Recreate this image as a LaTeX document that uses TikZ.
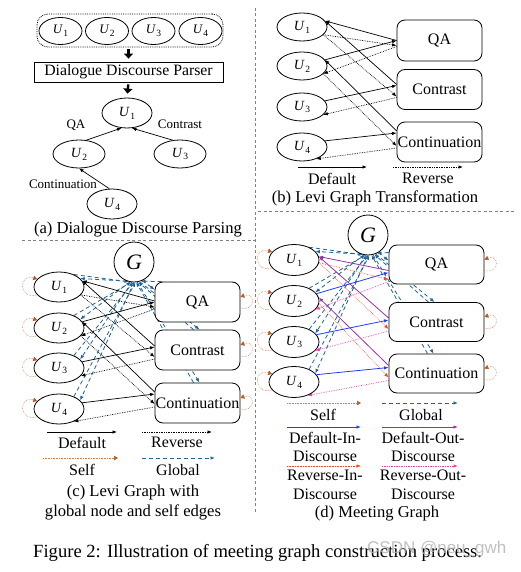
\documentclass[tikz,border=0pt]{standalone}
\usepackage{fontspec}
\setmainfont{Liberation Serif}
\newfontfamily\wmfont{Liberation Sans}
\usetikzlibrary{arrows.meta,shapes.geometric,backgrounds}
\definecolor{globc}{HTML}{1F6496}
\definecolor{selfc}{HTML}{D98050}
\definecolor{selfh}{HTML}{B85C2A}
\definecolor{dinc}{HTML}{1E3CFF}
\definecolor{doutc}{HTML}{9A30A8}
\definecolor{rinc}{HTML}{FF4020}
\definecolor{routc}{HTML}{FF3FA6}
\definecolor{divc}{HTML}{808080}
\definecolor{wmc}{HTML}{B4B4B4}
\newcommand\uu[1]{\textit{U}\kern0.4pt\raisebox{-0.45ex}{\fontsize{9.5}{10}\selectfont #1}}
\tikzset{
 utt/.style={ellipse, draw, line width=0.8pt, fill=white, inner sep=0pt, minimum width=50pt, minimum height=30pt, font=\fontsize{14}{16}\selectfont},
 relbox/.style={rectangle, rounded corners=8pt, draw, line width=0.8pt, fill=white, inner sep=0pt, minimum width=85pt, minimum height=40pt, font=\fontsize{16}{18}\selectfont},
 gnode/.style={circle, draw, line width=0.8pt, fill=white, inner sep=0pt, minimum size=40pt, font=\fontsize{22}{24}\selectfont\itshape},
 txt/.style={inner sep=0pt, font=\fontsize{16}{18.5}\selectfont, align=center},
 capt/.style={inner sep=0pt, font=\fontsize{16.6}{20}\selectfont, align=center},
 rellbl/.style={inner sep=0pt, font=\fontsize{13}{15}\selectfont},
 myhead/.style={-{Latex[length=4.5pt,width=3.5pt]}},
 deflt/.style={line width=0.7pt, black, myhead},
 revs/.style={line width=0.7pt, black, densely dotted, myhead},
 selfe/.style={line width=0.6pt, selfc, densely dotted, -{Triangle[length=4pt,width=4.5pt,color=selfh]}},
 glob/.style={line width=0.8pt, globc, dash pattern=on 4pt off 3pt, myhead},
 din/.style={line width=0.8pt, dinc, myhead},
 dout/.style={line width=0.8pt, doutc, myhead},
 rin/.style={line width=0.6pt, rinc, densely dotted, myhead},
 rout/.style={line width=0.7pt, routc, densely dotted, myhead},
 divl/.style={line width=0.8pt, divc, dash pattern=on 3pt off 2.5pt},
 bigarr/.style={line width=2.4pt, -{Triangle[length=5pt,width=9pt]}, shorten <=2pt, shorten >=3pt},
}
\begin{document}
\begin{tikzpicture}[x=1pt,y=-1pt]
\useasboundingbox (0,0) rectangle (520,572);

% ---------------- dividers
\draw[divl] (255,8) -- (255,512);
\draw[divl] (22,240) -- (255,240);
\draw[divl] (258,211) -- (515,211);

% ================= (a)
\node[draw, densely dotted, line width=0.8pt, rounded corners=11pt, minimum width=186pt, minimum height=33pt, inner sep=0pt] (atop) at (130,30.5) {};
\node[utt, minimum width=43pt, minimum height=27pt, font=\fontsize{13}{15}\selectfont] (aT1) at (60.5,31) {\uu1};
\node[utt, minimum width=43pt, minimum height=27pt, font=\fontsize{13}{15}\selectfont] (aT2) at (107,31) {\uu2};
\node[utt, minimum width=43pt, minimum height=27pt, font=\fontsize{13}{15}\selectfont] (aT3) at (153.5,31) {\uu3};
\node[utt, minimum width=43pt, minimum height=27pt, font=\fontsize{13}{15}\selectfont] (aT4) at (200.5,31) {\uu4};
\node[draw, line width=0.8pt, minimum width=189pt, minimum height=20pt, inner sep=0pt, font=\fontsize{15.8}{18}\selectfont] (parser) at (128.5,72) {Dialogue Discourse Parser};
\draw[bigarr] (parser.north |- atop.south) -- (parser.north);
\node[utt] (aU1) at (127,113) {\uu1};
\node[utt, minimum width=52pt, minimum height=28pt] (aU2) at (79,154) {\uu2};
\node[utt, minimum width=52pt, minimum height=28pt] (aU3) at (180,154) {\uu3};
\node[utt] (aU4) at (112,204) {\uu4};
\draw[bigarr, shorten >=4pt] (parser.south) -- (aU1.north);
\draw[deflt] (aU2.62) -- (aU1.-110);
\draw[deflt] (aU3.118) -- (aU1.-72);
\draw[deflt] (aU4.100) -- (aU2.-90);
\node[rellbl] (lqa) at (76,125) {QA};
\node[rellbl] (lco) at (180,124) {Contrast};
\node[rellbl] (lcn) at (63,184) {Continuation};
\node[capt] (capa) at (138,230) {(a) Dialogue Discourse Parsing};

% ================= (b)
\node[utt, minimum height=28pt] (bU1) at (302,27) {\uu1};
\node[utt, minimum height=28pt] (bU2) at (302,66) {\uu2};
\node[utt, minimum height=28pt] (bU3) at (302,107) {\uu3};
\node[utt, minimum height=28pt] (bU4) at (302,147) {\uu4};
\node[relbox, minimum height=41pt] (bQA) at (439.5,40.5) {QA};
\node[relbox, minimum height=40pt] (bCo) at (439.5,89.5) {Contrast};
\node[relbox, minimum height=40pt] (bCn) at (439.5,142) {Continuation};
\begin{scope}[on background layer]
\draw[deflt] (bU2.15) -- ([yshift=0pt]bQA.west);
\draw[deflt] ([yshift=0pt]bQA.west) -- (bU1.15);
\draw[deflt] (bU3.15) -- ([yshift=4pt]bCo.west);
\draw[deflt] ([yshift=5pt]bCo.west) -- (bU1.15);
\draw[deflt] (bU4.15) -- ([yshift=9pt]bCn.west);
\draw[deflt] ([yshift=11pt]bCn.west) -- (bU2.15);
\draw[revs] (bU1.-20) -- ([yshift=-5pt]bQA.west);
\draw[revs] ([yshift=-6pt]bQA.west) -- (bU2.-20);
\draw[revs] (bU1.-20) -- ([yshift=-7pt]bCo.west);
\draw[revs] ([yshift=-8pt]bCo.west) -- (bU3.-20);
\draw[revs] (bU2.-20) -- ([yshift=-4pt]bCn.west);
\draw[revs] ([yshift=-6pt]bCn.west) -- (bU4.-40);
\end{scope}
\coordinate (bLa1) at (298,167); \coordinate (bLa2) at (367,167);
\coordinate (bLb1) at (393,167); \coordinate (bLb2) at (463,167);
\draw[deflt] (bLa1) -- (bLa2);
\draw[revs] (bLb1) -- (bLb2);
\node[txt] (bT1) at (332,178.5) {Default};
\node[txt] (bT2) at (428,178.5) {Reverse};
\node[capt] (capb) at (375,198) {(b) Levi Graph Transformation};

% ================= (c)
\node[gnode] (cG) at (134,262) {G};
\node[utt] (cU1) at (59,287) {\uu1};
\node[utt] (cU2) at (59,328) {\uu2};
\node[utt] (cU3) at (59,368) {\uu3};
\node[utt] (cU4) at (59,409) {\uu4};
\node[relbox] (cQA) at (197.5,302) {QA};
\node[relbox] (cCo) at (197.5,350) {Contrast};
\node[relbox] (cCn) at (197.5,403) {Continuation};
\begin{scope}[on background layer]
\foreach \t/\ga/\gb in {cU1/250/256, cU2/258/262, cU3/264/268, cU4/270/274} {
  \draw[glob] (cG.\ga) -- (\t.22);
  \draw[glob] (\t.40) -- (cG.\gb);
}
\draw[glob] (cG.-66) -- ([yshift=-8pt]cQA.north west);
\draw[glob] ([xshift=7pt]cQA.north west) -- (cG.-70);
\draw[glob] (cG.-74) -- ([xshift=2pt]cCo.north);
\draw[glob] ([xshift=-4pt]cCo.north) -- (cG.-78);
\draw[glob] (cG.-81) -- ([xshift=2pt]cCn.north);
\draw[glob] ([xshift=-4pt]cCn.north) -- (cG.-84);
\draw[deflt] (cU2.15) -- ([yshift=0pt]cQA.west);
\draw[deflt] ([yshift=1pt]cQA.west) -- (cU1.15);
\draw[deflt] (cU3.15) -- ([yshift=3pt]cCo.west);
\draw[deflt] ([yshift=4pt]cCo.west) -- (cU1.15);
\draw[deflt] (cU4.15) -- ([yshift=9pt]cCn.west);
\draw[deflt] ([yshift=11pt]cCn.west) -- (cU2.15);
\draw[revs] (cU1.-20) -- ([yshift=-5pt]cQA.west);
\draw[revs] ([yshift=-7pt]cQA.west) -- (cU2.-20);
\draw[revs] (cU1.-20) -- ([yshift=-7pt]cCo.west);
\draw[revs] ([yshift=-9pt]cCo.west) -- (cU3.-20);
\draw[revs] (cU2.-20) -- ([yshift=-1pt]cCn.west);
\draw[revs] ([yshift=-4pt]cCn.west) -- (cU4.-40);
\end{scope}
\foreach \u in {cU1,cU2,cU3,cU4} {
  \draw[selfe] (\u.200) .. controls +(-19,5) and +(-19,-6) .. (\u.160);
}
\foreach \b in {cQA,cCo,cCn} {
  \draw[selfe] ([yshift=-6pt]\b.east) .. controls +(16,4) and +(15,-6) .. ([yshift=5pt]\b.east);
}
\coordinate (cLa1) at (47,432); \coordinate (cLa2) at (117,432);
\coordinate (cLb1) at (142,432); \coordinate (cLb2) at (212,432);
\coordinate (cLc1) at (43,458); \coordinate (cLc2) at (118,458);
\coordinate (cLd1) at (142,458); \coordinate (cLd2) at (215,458);
\draw[deflt] (cLa1) -- (cLa2);
\draw[revs] (cLb1) -- (cLb2);
\draw[selfe] (cLc1) -- (cLc2);
\draw[glob] (cLd1) -- (cLd2);
\node[txt] (cT1) at (82,442.5) {Default};
\node[txt] (cT2) at (177,442.5) {Reverse};
\node[txt] (cT3) at (82,470) {Self};
\node[txt] (cT4) at (178,470) {Global};
\node[capt] (capc) at (133,503) {(c) Levi Graph with\\global node and self edges};

% ================= (d)
\node[gnode] (dG) at (368,235) {G};
\node[utt, minimum height=31pt] (dU1) at (294,260) {\uu1};
\node[utt, minimum height=31pt] (dU2) at (294,301) {\uu2};
\node[utt, minimum height=31pt] (dU3) at (294,342) {\uu3};
\node[utt, minimum height=31pt] (dU4) at (294,382) {\uu4};
\node[relbox, minimum width=95pt, minimum height=39pt] (dQA) at (436.5,264.5) {QA};
\node[relbox, minimum width=95pt, minimum height=39pt] (dCo) at (436.5,322) {Contrast};
\node[relbox, minimum width=95pt, minimum height=39pt] (dCn) at (436.5,373.5) {Continuation};
\begin{scope}[on background layer]
\foreach \t/\ga/\gb in {dU1/250/256, dU2/258/262, dU3/264/268, dU4/270/274} {
  \draw[glob] (dG.\ga) -- (\t.22);
  \draw[glob] (\t.40) -- (dG.\gb);
}
\draw[glob] (dG.-60) -- ([yshift=4pt]dQA.west);
\draw[glob] ([yshift=12pt]dQA.west) -- (dG.-64);
\draw[glob] (dG.-68) -- ([xshift=-2pt]dCo.north);
\draw[glob] ([xshift=-8pt]dCo.north) -- (dG.-72);
\draw[glob] (dG.-76) -- ([xshift=-3pt]dCn.north);
\draw[glob] ([xshift=-9pt]dCn.north) -- (dG.-80);
\draw[din] (dU2.18) -- ([yshift=-8pt]dQA.west);
\draw[din] (dU3.18) -- ([yshift=2pt]dCo.west);
\draw[din] (dU4.18) -- ([yshift=6pt]dCn.west);
\draw[dout] ([yshift=-6pt]dQA.west) -- (dU1.8);
\draw[dout] ([yshift=4pt]dCo.west) -- (dU1.8);
\draw[dout] ([yshift=8pt]dCn.west) -- (dU2.8);
\draw[rin] (dU1.-6) -- ([yshift=-15pt]dQA.west);
\draw[rin] (dU1.-6) -- ([yshift=-7pt]dCo.west);
\draw[rin] (dU2.-6) -- ([yshift=-4pt]dCn.west);
\draw[rout] ([yshift=-17pt]dQA.west) -- (dU2.-22);
\draw[rout] ([yshift=-9pt]dCo.west) -- (dU3.-22);
\draw[rout] ([yshift=-7pt]dCn.west) -- (dU4.-45);
\end{scope}
\foreach \u in {dU1,dU2,dU3,dU4} {
  \draw[selfe] (\u.200) .. controls +(-19,5) and +(-19,-6) .. (\u.160);
}
\foreach \b in {dQA,dCo,dCn} {
  \draw[selfe] ([yshift=-6pt]\b.east) .. controls +(16,4) and +(15,-6) .. ([yshift=5pt]\b.east);
}
\coordinate (dLa1) at (287,403); \coordinate (dLa2) at (361,403);
\coordinate (dLb1) at (382,403); \coordinate (dLb2) at (458,403);
\coordinate (dLc1) at (287,427); \coordinate (dLc2) at (361,427);
\coordinate (dLd1) at (382,427); \coordinate (dLd2) at (458,427);
\coordinate (dLe1) at (287,466); \coordinate (dLe2) at (361,466);
\coordinate (dLf1) at (382,466); \coordinate (dLf2) at (458,466);
\draw[selfe] (dLa1) -- (dLa2);
\draw[glob] (dLb1) -- (dLb2);
\draw[din] (dLc1) -- (dLc2);
\draw[dout] (dLd1) -- (dLd2);
\draw[rin] (dLe1) -- (dLe2);
\draw[rout] (dLf1) -- (dLf2);
\node[txt] (dT1) at (323,415) {Self};
\node[txt] (dT2) at (421,415) {Global};
\node[txt] (dT3) at (325,447) {Default-In-\\Discourse};
\node[txt] (dT4) at (423,447) {Default-Out-\\Discourse};
\node[txt] (dT5) at (325,485) {Reverse-In-\\Discourse};
\node[txt] (dT6) at (423,485) {Reverse-Out-\\Discourse};
\node[capt] (capd) at (377,514) {(d) Meeting Graph};

% ================= figure caption
\node[inner sep=0pt, anchor=west, font=\fontsize{18.6}{20}\selectfont] (figcap) at (33,553) {Figure 2: Illustration of meeting graph construction process.};
\node[inner sep=0pt, anchor=west, text=wmc, opacity=0.85, font=\wmfont\fontsize{17}{19}\selectfont] (wm) at (367,549) {CSDN @neu\_gwh};
\end{tikzpicture}
\end{document}
